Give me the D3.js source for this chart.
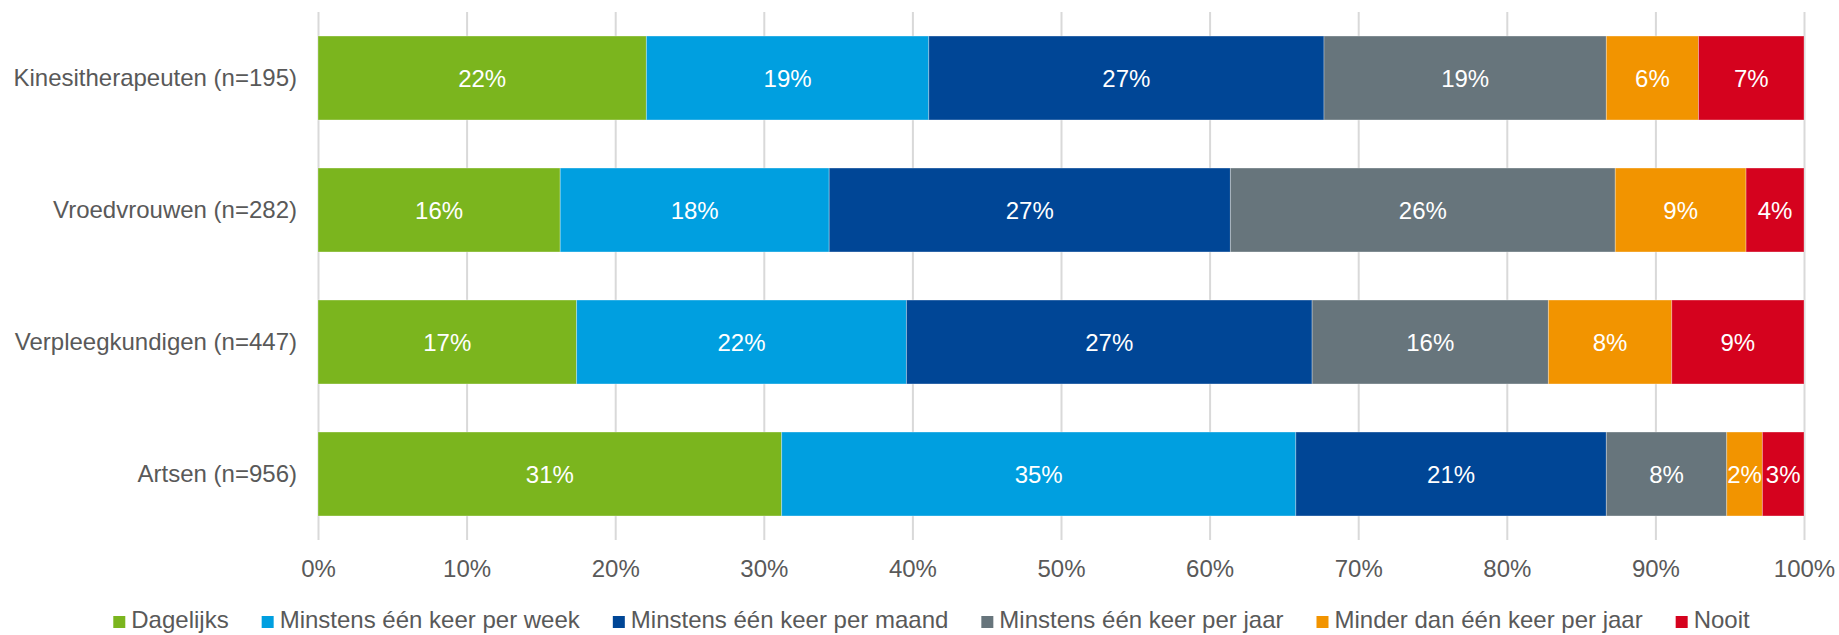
<!DOCTYPE html>
<html>
<head>
<meta charset="utf-8">
<script src="https://cdn.jsdelivr.net/npm/d3@7"></script>
<style>
  html, body { margin: 0; padding: 0; background: #fff; }
  svg { display: block; font-family: "Liberation Sans", Arial, sans-serif; }
</style>
</head>
<body>
<svg id="chart" width="1839" height="635"></svg>
<script>
const categories = [
  "Kinesitherapeuten (n=195)",
  "Vroedvrouwen (n=282)",
  "Verpleegkundigen (n=447)",
  "Artsen (n=956)"
];
const seriesNames = [
  "Dagelijks",
  "Minstens één keer per week",
  "Minstens één keer per maand",
  "Minstens één keer per jaar",
  "Minder dan één keer per jaar",
  "Nooit"
];
const dagelijks  = [22.1, 16.3, 17.4, 31.2];
const perWeek    = [19.0, 18.1, 22.2, 34.6];
const perMaand   = [26.6, 27.0, 27.3, 20.9];
const perJaar    = [19.0, 25.9, 15.9, 8.1];
const minderJaar = [6.2, 8.8, 8.3, 2.4];
const nooit      = [7.1, 3.9, 8.9, 2.8];
const tickValues = [0, 10, 20, 30, 40, 50, 60, 70, 80, 90, 100];
const colors = ["#7BB51E", "#009FE0", "#004696", "#67757C", "#F29400", "#D5021E"];

(function () {
const seriesValues = [dagelijks, perWeek, perMaand, perJaar, minderJaar, nooit];
const rows = categories.map((c, i) => {
  const r = { cat: c };
  seriesNames.forEach((s, j) => r[s] = seriesValues[j][i]);
  return r;
});

const svg = d3.select("#chart");
const pLeft = 318, pRight = 1804, pTop = 12, pBottom = 540;
const textColor = "#595959";

const x = d3.scaleLinear().domain([0, 100]).range([pLeft, pRight]);
const y = d3.scaleBand().domain(categories).range([pTop, pBottom])
  .paddingInner(0.364).paddingOuter(0.182);

// grid + tick labels
const xAxis = d3.axisBottom(x).tickValues(tickValues).tickFormat(d => d + "%")
  .tickSize(-(pBottom - pTop)).tickPadding(20);
const gx = svg.append("g").attr("transform", `translate(0,${pBottom})`).call(xAxis);
gx.select(".domain").remove();
gx.selectAll(".tick line").attr("stroke", "#D9D9D9").attr("stroke-width", 2);
gx.selectAll(".tick text").attr("fill", textColor).attr("font-size", 24)
  .attr("font-family", "Liberation Sans, Arial, sans-serif");

// category labels
const yAxis = d3.axisLeft(y).tickSize(0).tickPadding(21);
const gy = svg.append("g").attr("transform", `translate(${pLeft},0)`).call(yAxis);
gy.select(".domain").remove();
gy.selectAll(".tick text").attr("fill", textColor).attr("font-size", 24)
  .attr("font-family", "Liberation Sans, Arial, sans-serif");

// stacked bars
const stack = d3.stack().keys(seriesNames)(rows);
const layers = svg.append("g").selectAll("g").data(stack).join("g")
  .attr("fill", (d, i) => colors[i]);
layers.selectAll("rect").data(d => d).join("rect")
  .attr("x", d => x(d[0]))
  .attr("y", d => y(d.data.cat))
  .attr("width", d => x(d[1]) - x(d[0]))
  .attr("height", y.bandwidth())
  .attr("stroke", "rgba(255,255,255,0.3)")
  .attr("stroke-width", 1);

layers.selectAll("text").data(d => d).join("text")
  .attr("x", d => (x(d[0]) + x(d[1])) / 2)
  .attr("y", d => y(d.data.cat) + y.bandwidth() / 2)
  .attr("dy", "0.37em")
  .attr("text-anchor", "middle")
  .attr("fill", "#fff")
  .attr("font-size", 24)
  .text(d => Math.round(d[1] - d[0]) + "%");

// legend
const legend = svg.append("g");
let lx = 0;
seriesNames.forEach((s, i) => {
  const g = legend.append("g");
  g.append("rect").attr("x", 0).attr("y", 616).attr("width", 12).attr("height", 12)
    .attr("fill", colors[i]);
  const t = g.append("text").attr("x", 18).attr("y", 628).attr("fill", textColor)
    .attr("font-size", 24).text(s);
  const w = t.node().getComputedTextLength();
  g.attr("transform", `translate(${lx},0)`);
  lx += 18 + w + 33;
});
const totalW = lx - 33;
legend.attr("transform", `translate(${931.5 - totalW / 2},0)`);
})();
</script>
</body>
</html>
